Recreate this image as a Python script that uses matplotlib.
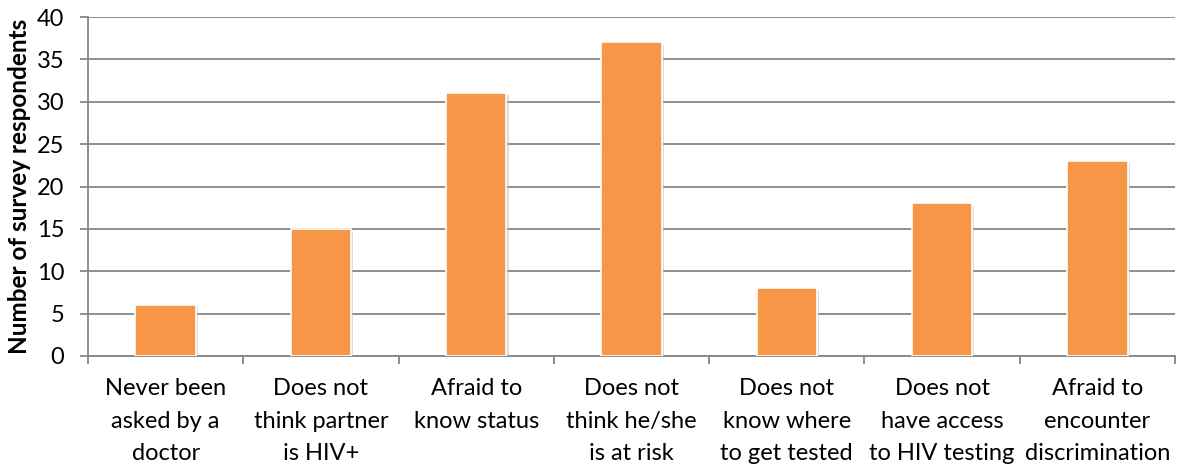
import numpy as np
import matplotlib
matplotlib.use('Agg')
from matplotlib import pyplot as plt
import matplotlib.patheffects as pe

# Reasons for not getting tested (survey counts)
categories = ['Never been\nasked by a\ndoctor',
              'Does not\nthink partner\nis HIV+',
              'Afraid to\nknow status',
              'Does not\nthink he/she\nis at risk',
              'Does not\nknow where\nto get tested',
              'Does not\nhave access\nto HIV testing',
              'Afraid to\nencounter\ndiscrimination']
counts = [6, 15, 31, 37, 8, 18, 23]
y_ticks = [0, 5, 10, 15, 20, 25, 30, 35, 40]

plt.rcParams['font.family'] = ['Lato', 'DejaVu Sans']

fig = plt.figure(figsize=(11.77, 4.70), dpi=100)
ax = fig.add_axes([88 / 1177, 1 - 356 / 470, 1087 / 1177, 339 / 470])

x = np.arange(len(categories))
bars = ax.bar(x, counts, width=0.39, color='#F79646', edgecolor='white',
              linewidth=1.2, zorder=3)
for b in bars:
    b.set_path_effects([pe.SimplePatchShadow(offset=(1.5, -1.5), shadow_rgbFace='#bbbbbb', alpha=0.5),
                        pe.Normal()])

ax.set_xlim(-0.5, len(categories) - 0.5)
ax.set_ylim(0, 40)
ax.set_yticks(y_ticks)
ax.yaxis.grid(True, color='#868686', linewidth=1.3, zorder=0)
ax.set_axisbelow(True)

# labels at the centres, tick marks at the category edges
ax.set_xticks(x)
ax.set_xticklabels(categories, fontsize=17, linespacing=1.68)
ax.set_xticks(np.arange(len(categories) + 1) - 0.5, minor=True)
ax.tick_params(axis='x', which='major', length=0, pad=16)
ax.tick_params(axis='x', which='minor', length=6, color='#868686', width=1.3)
ax.tick_params(axis='y', labelsize=17, length=6, color='#868686', width=1.3, pad=11)

for side in ['top', 'right']:
    ax.spines[side].set_visible(False)
for side in ['left', 'bottom']:
    ax.spines[side].set_color('#868686')
    ax.spines[side].set_linewidth(1.3)

ax.set_ylabel('Number of survey respondents', fontsize=17.5, fontweight='bold', labelpad=4)

plt.savefig('out.png', dpi=100)
